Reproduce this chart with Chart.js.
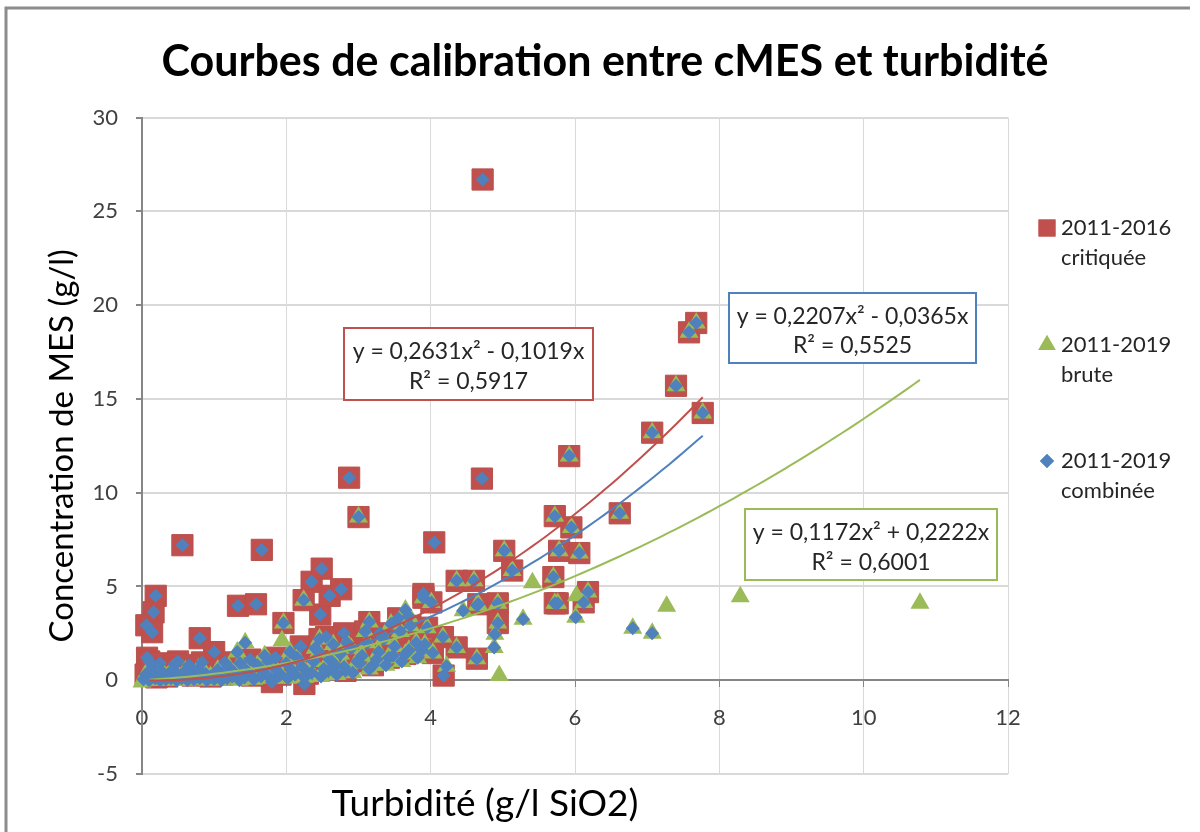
<!DOCTYPE html>
<html>
<head>
<meta charset="utf-8">
<script src="https://cdn.jsdelivr.net/npm/chart.js@4.4.0/dist/chart.umd.min.js"></script>
<style>
  html, body { margin: 0; padding: 0; background: #fff; }
</style>
</head>
<body>
<canvas id="chart" width="1200" height="832"></canvas>
<script>
// Points, grouped by which markers are stacked on them
// red square + blue diamond (critiquée kept in combinée)
const critOnlyPts = [
  [4.72, 26.7], [2.87, 10.8], [4.71, 10.75], [0.56, 7.2], [1.66, 6.95], [4.05, 7.35],
  [0.19, 4.5], [0.16, 3.62], [0.06, 2.93], [0.14, 2.56], [1.33, 3.97], [1.58, 4.05],
  [0.8, 2.24], [1.0, 1.5], [0.83, 0.95], [0.5, 1.0], [0.07, 1.2], [2.35, 5.25],
  [2.49, 5.95], [2.47, 3.5], [2.6, 4.5], [2.76, 4.85], [3.9, 4.6], [4.18, 0.25],
  [1.8, -0.1], [2.25, -0.2], [0.1, 1.0], [0.15, 0.7], [0.25, 0.9], [0.45, 0.85],
  [0.65, 0.8], [1.15, 0.95], [1.5, 1.1], [1.85, 1.2],
  [2.2, 1.8], [2.55, 2.3], [2.8, 2.5], [3.3, 2.5], [3.55, 3.3]
];
// red square + green triangle + blue diamond
const bothPts = [
  [3.0, 8.7], [5.92, 11.95], [7.07, 13.2], [7.4, 15.7], [7.58, 18.55], [7.68, 19.05],
  [7.77, 14.25], [5.72, 8.75], [5.95, 8.15], [6.62, 8.9], [5.02, 6.9], [5.78, 6.9],
  [6.06, 6.78], [5.13, 5.85], [4.36, 5.3], [4.6, 5.3], [5.7, 5.5], [4.66, 4.05],
  [4.93, 4.1], [5.72, 4.1], [5.76, 4.1], [6.18, 4.7], [6.12, 4.15], [4.93, 3.05],
  [4.64, 1.15], [1.96, 3.05], [2.24, 4.27], [2.46, 2.2], [3.15, 3.1], [3.09, 2.6],
  [3.9, 4.4], [4.01, 4.15], [4.17, 2.3], [4.36, 1.75], [4.03, 1.45], [2.84, 2.0],
  [0.05, 0.3], [0.12, 0.5], [0.2, 0.15], [0.28, 0.45], [0.35, 0.2], [0.42, 0.55],
  [0.5, 0.3], [0.6, 0.5], [0.7, 0.25], [0.78, 0.6], [0.88, 0.35], [0.95, 0.2],
  [1.05, 0.55], [1.12, 0.3], [1.2, 0.7], [1.28, 0.4], [1.36, 0.9], [1.45, 0.5],
  [1.52, 0.25], [1.6, 0.8], [1.68, 0.45], [1.75, 1.0], [1.85, 0.6], [1.92, 0.3],
  [2.0, 0.9], [2.08, 0.5], [2.15, 1.2], [2.22, 0.7], [2.3, 0.35], [2.38, 1.0],
  [2.45, 1.5], [2.52, 0.6], [2.6, 1.1], [2.68, 0.8], [2.75, 1.4], [2.82, 0.5],
  [2.9, 1.7], [2.98, 1.0], [3.05, 1.3], [3.12, 2.0], [3.2, 0.8], [3.28, 1.5],
  [3.35, 2.2], [3.42, 1.2], [3.5, 1.8], [3.58, 2.6], [3.65, 1.4], [3.72, 2.9],
  [3.8, 2.0], [3.88, 1.6], [3.95, 2.8]
];
// green triangle + blue diamond
const bruteCombPts = [
  [6.8, 2.77], [7.07, 2.5], [6.01, 3.36], [5.28, 3.25], [4.89, 2.45], [4.88, 1.75],
  [4.22, 0.75], [3.65, 3.75], [4.45, 3.7], [4.64, 4.0], [1.43, 2.0], [1.32, 1.5],
  [0.02, 0.05], [0.1, 0.0], [0.18, 0.1], [0.25, 0.0], [0.33, 0.05], [0.4, 0.1],
  [0.48, 0.0], [0.55, 0.1], [0.63, 0.0], [0.72, 0.05], [0.8, 0.1], [0.9, 0.0],
  [1.0, 0.05], [1.1, 0.0], [1.18, 0.1], [1.25, 0.2], [1.35, 0.0], [1.42, 0.15],
  [1.55, 0.05], [1.65, 0.2], [1.78, 0.1], [1.9, 0.25], [2.02, 0.1], [2.12, 0.3],
  [2.25, 0.15], [2.35, 0.4], [2.48, 0.2], [2.58, 0.5], [2.7, 0.3], [2.8, 0.7],
  [2.92, 0.4], [3.02, 0.9], [3.15, 0.6], [3.25, 1.1], [3.38, 0.8], [3.48, 1.3],
  [3.6, 1.0], [3.7, 1.6], [3.82, 1.2], [3.92, 1.9], [1.7, 1.3], [2.05, 1.5],
  [2.4, 1.7], [2.65, 1.9], [3.45, 3.0], [3.7, 3.4]
];
// green triangle only
const bruteOnlyPts = [
  [5.41, 5.2], [7.27, 3.95], [8.29, 4.45], [10.78, 4.1], [4.95, 0.25], [6.02, 4.5],
  [1.94, 2.1], [0.0, -0.1]
];

const seriesNames = [['2011-2016', 'critiquée'], ['2011-2019', 'brute'], ['2011-2019', 'combinée']];
const seriesColors = ['#c0504d', '#9bbb59', '#4f81bd'];

// polynomial trend lines through origin: y = a x² + b x
const trendCoefs = [[0.2631, -0.1019], [0.1172, 0.2222], [0.2207, -0.0365]];
const trendRanges = [[0.1, 7.77], [0.1, 10.78], [0.1, 7.77]];
const trendLabels = [
  ['y = 0,2631x² - 0,1019x', 'R² = 0,5917'],
  ['y = 0,1172x² + 0,2222x', 'R² = 0,6001'],
  ['y = 0,2207x² - 0,0365x', 'R² = 0,5525']
];

const xTicks = [0, 2, 4, 6, 8, 10, 12];
const yTicks = [-5, 0, 5, 10, 15, 20, 25, 30];
const xTitle = 'Turbidité (g/l SiO2)';

const FONT = 'Lato, "Open Sans", sans-serif';

function trendPoints(i) {
  const [a, b] = trendCoefs[i];
  const [x0, x1] = trendRanges[i];
  const pts = [];
  for (let x = x0; x < x1; x += 0.1) pts.push({ x: x, y: a * x * x + b * x });
  pts.push({ x: x1, y: a * x1 * x1 + b * x1 });
  return pts;
}

// text boxes with the trend equations
const eqBoxes = [
  { box: [344, 328, 249, 72], color: seriesColors[0], text: trendLabels[0] },
  { box: [729, 293, 247, 70], color: seriesColors[2], text: trendLabels[2] },
  { box: [745, 509, 252, 71], color: seriesColors[1], text: trendLabels[1] }
];

const decorPlugin = {
  id: 'decor',
  beforeDraw(chart) {
    const ctx = chart.ctx;
    ctx.save();
    ctx.strokeStyle = '#8c8c8c';
    ctx.lineWidth = 3;
    ctx.beginPath();
    ctx.moveTo(6, 832);
    ctx.lineTo(6, 8);
    ctx.lineTo(1190, 8);
    ctx.stroke();
    ctx.restore();
  },
  afterDraw(chart) {
    const ctx = chart.ctx;
    ctx.save();
    // x axis title sits left of the plot centre in the original
    ctx.fillStyle = '#000';
    ctx.font = '37px ' + FONT;
    ctx.textAlign = 'center';
    ctx.textBaseline = 'middle';
    ctx.fillText(xTitle, 485, 804);
    // equation boxes
    eqBoxes.forEach(e => {
      const [x, y, w, h] = e.box;
      ctx.fillStyle = '#fff';
      ctx.fillRect(x, y, w, h);
      ctx.strokeStyle = e.color;
      ctx.lineWidth = 2;
      ctx.strokeRect(x, y, w, h);
      ctx.fillStyle = '#262626';
      ctx.font = '23px ' + FONT;
      ctx.textAlign = 'center';
      ctx.textBaseline = 'middle';
      ctx.fillText(e.text[0], x + w / 2, y + h * 0.33);
      ctx.fillText(e.text[1], x + w / 2, y + h * 0.75);
    });
    // legend
    const legendY = [228, 345, 461];
    const styles = ['rect', 'triangle', 'rectRot'];
    const radii = [12, 10, 7];
    seriesNames.forEach((name, i) => {
      ctx.fillStyle = seriesColors[i];
      Chart.helpers.drawPoint(ctx, { pointStyle: styles[i], radius: radii[i], rotation: 0, borderWidth: 0 }, 1047, legendY[i]);
      ctx.fill();
      ctx.fillStyle = '#262626';
      ctx.font = '22px ' + FONT;
      ctx.textAlign = 'left';
      ctx.textBaseline = 'middle';
      ctx.fillText(name[0], 1061, legendY[i]);
      ctx.fillText(name[1], 1061, legendY[i] + 30);
    });
    ctx.restore();
  }
};

const pointSets = {
  crit: critOnlyPts.concat(bothPts),
  brute: bothPts.concat(bruteCombPts, bruteOnlyPts),
  comb: critOnlyPts.concat(bothPts, bruteCombPts)
};

new Chart(document.getElementById('chart'), {
  type: 'scatter',
  data: {
    datasets: [
      { label: 'trend critiquée', data: trendPoints(0), showLine: true, pointRadius: 0, borderColor: seriesColors[0], borderWidth: 2, order: 0, clip: false },
      { label: 'trend brute', data: trendPoints(1), showLine: true, pointRadius: 0, borderColor: seriesColors[1], borderWidth: 2, order: 0, clip: false },
      { label: 'trend combinée', data: trendPoints(2), showLine: true, pointRadius: 0, borderColor: seriesColors[2], borderWidth: 2, order: 0, clip: false },
      { label: seriesNames[2].join(' '), data: pointSets.comb, pointStyle: 'rectRot', pointRadius: 7, backgroundColor: seriesColors[2], borderColor: seriesColors[2], borderWidth: 0, order: 1, clip: false },
      { label: seriesNames[1].join(' '), data: pointSets.brute, pointStyle: 'triangle', pointRadius: 11, backgroundColor: seriesColors[1], borderColor: seriesColors[1], borderWidth: 0, order: 2, clip: false },
      { label: seriesNames[0].join(' '), data: pointSets.crit, pointStyle: 'rect', pointRadius: 15, backgroundColor: seriesColors[0], borderColor: '#b9504c', borderWidth: 1, order: 3, clip: false }
    ]
  },
  options: {
    responsive: false,
    animation: false,
    layout: { padding: { left: 10, right: 0, top: 10, bottom: 58 } },
    plugins: {
      legend: { display: false },
      tooltip: { enabled: false },
      title: {
        display: true,
        text: 'Courbes de calibration entre cMES et turbidité',
        color: '#000',
        font: { family: FONT, size: 43, weight: 'bold' },
        padding: { top: 26, bottom: 30 }
      }
    },
    scales: {
      x: {
        type: 'linear',
        position: { y: 0 },
        min: 0,
        max: 12,
        afterBuildTicks: scale => { scale.ticks = xTicks.map(v => ({ value: v })); },
        ticks: { color: '#404040', font: { family: FONT, size: 22 }, padding: 18 },
        grid: { color: '#d9d9d9', lineWidth: 1, tickLength: 6, tickColor: '#868686' },
        border: { color: '#868686', width: 2 }
      },
      y: {
        type: 'linear',
        position: 'left',
        min: -5,
        max: 30,
        afterBuildTicks: scale => { scale.ticks = yTicks.map(v => ({ value: v })); },
        afterFit: scale => { scale.width = 132; },
        ticks: { color: '#404040', font: { family: FONT, size: 22 }, padding: 18 },
        grid: { color: '#d9d9d9', lineWidth: 2, tickLength: 6, tickColor: '#868686' },
        border: { color: '#868686', width: 2 },
        title: {
          display: true,
          text: 'Concentration de MES (g/l)',
          color: '#000',
          font: { family: FONT, size: 33 },
          padding: { top: 33, bottom: 0 }
        }
      },
      // empty scale that only reserves room for the legend on the right
      legendSpace: {
        type: 'linear',
        position: 'right',
        display: true,
        ticks: { display: false },
        grid: { display: false, drawTicks: false },
        border: { display: false },
        afterFit: scale => { scale.width = 192; }
      }
    }
  },
  plugins: [decorPlugin]
});
</script>
</body>
</html>
